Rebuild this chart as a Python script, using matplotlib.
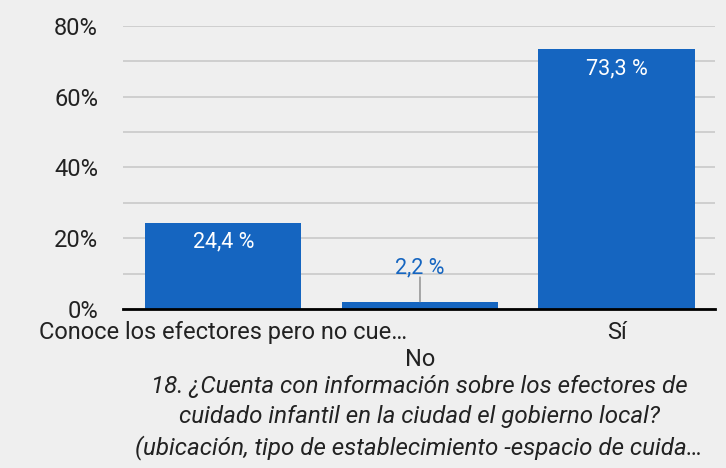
import matplotlib
matplotlib.use("Agg")
import matplotlib.pyplot as plt
from matplotlib.ticker import FuncFormatter

# data
categories = ["Conoce los efectores pero no cue…", "No", "Sí"]
values = [0.244, 0.022, 0.733]
value_labels = ["24,4 %", "2,2 %", "73,3 %"]
title = ("18. ¿Cuenta con información sobre los efectores de\n"
         "cuidado infantil en la ciudad el gobierno local?\n"
         "(ubicación, tipo de establecimiento -espacio de cuida…")

BG = "#efefef"
BLUE = "#1565c0"

plt.rcParams["font.family"] = ["Roboto", "DejaVu Sans"]

fig = plt.figure(figsize=(7.26, 4.68), dpi=100, facecolor=BG)
ax = fig.add_axes([123 / 726, 1 - 309.3 / 468, 592 / 726, (309.3 - 25.7) / 468])
ax.set_facecolor(BG)

x = list(range(len(categories)))
bars = ax.bar(x, values, width=0.795, color=BLUE, zorder=3)

ax.set_xlim(-0.51, 2.5)
ax.set_ylim(0, 0.8)
ax.set_yticks([i / 10 for i in range(9)])
ax.yaxis.set_major_formatter(FuncFormatter(
    lambda v, p: f"{round(v * 100)}%" if round(v * 100) % 20 == 0 else ""))
ax.grid(axis="y", color="#cccccc", linewidth=1.3, zorder=0)
ax.tick_params(axis="y", length=0, pad=18, labelsize=17, labelcolor="#222222")
ax.tick_params(axis="x", length=0, pad=8.5, labelsize=17, labelcolor="#222222")
ax.set_xticks(x)
ax.set_xticklabels([categories[0], "\n" + categories[1], categories[2]],
                   linespacing=1.22)
for s in ["top", "right", "left"]:
    ax.spines[s].set_visible(False)
ax.spines["bottom"].set_color("black")
ax.spines["bottom"].set_linewidth(2)
ax.spines["bottom"].set_zorder(4)

# value labels
for i, (v, lab) in enumerate(zip(values, value_labels)):
    if v > 0.1:
        ax.annotate(lab, (i, v), xytext=(0, -13.7), textcoords="offset points",
                    ha="center", va="center", color="white", fontsize=15.5,
                    zorder=5)
    else:
        ax.annotate(lab, (i, v), xytext=(0, 24), textcoords="offset points",
                    ha="center", va="center", color=BLUE, fontsize=15.5,
                    zorder=5)
        ax.annotate("", (i, v), xytext=(0, 17.5), textcoords="offset points",
                    arrowprops=dict(arrowstyle="-", color="#999999", lw=1.2,
                                    shrinkA=0, shrinkB=0))

ax.text(0.5, -0.233, title, transform=ax.transAxes, ha="center", va="top",
        fontsize=17.4, style="italic", color="#222222", linespacing=1.37)

fig.savefig("out.png", dpi=100, facecolor=BG)
